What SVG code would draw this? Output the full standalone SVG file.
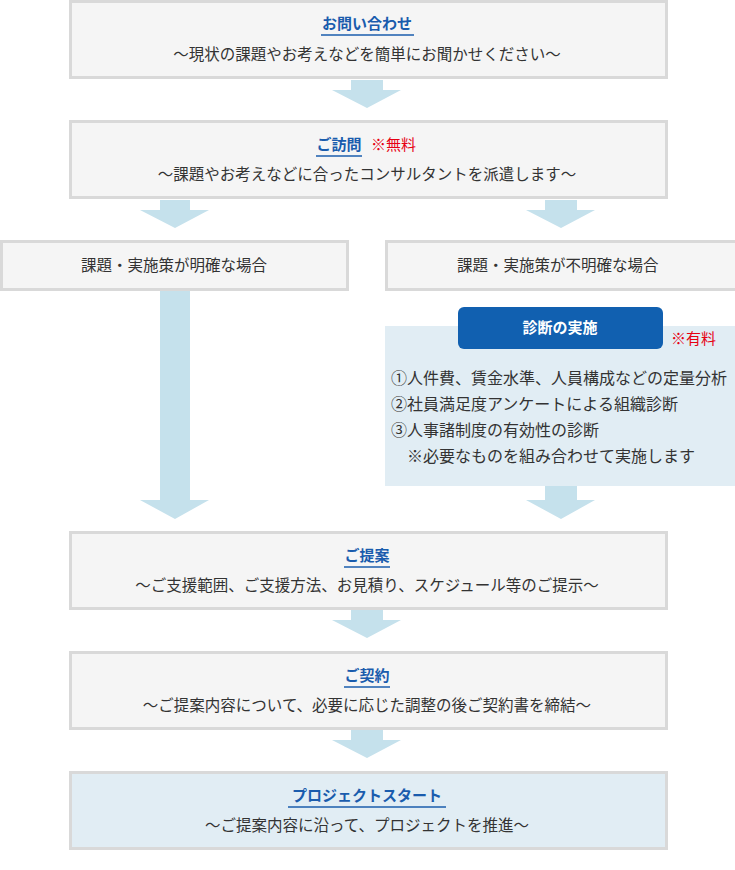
<svg xmlns="http://www.w3.org/2000/svg" width="735" height="870" viewBox="0 0 735 870">
<style>
text{font-family:"Noto Sans CJK JP","Noto Sans",sans-serif;fill:#333;font-size:15.5px}
.box{fill:#f5f5f5;stroke:#d9d9d9;stroke-width:3}
.blue{fill:#e1edf4}
.t{fill:#1a5cad;font-weight:bold;font-size:15px;text-anchor:middle}
.ul{stroke:#1a5cad;stroke-width:1.5}
.s{text-anchor:middle}
.r{fill:#e60012;font-size:15px}
.p{font-size:16px}
.arr{fill:#c5e1ec}
</style>
<g id="connectors">
<polygon class="arr" points="351,80 383,80 383,90 401,90 367,108 332,90 351,90"/>
<polygon class="arr" points="160,200 190,200 190,210 209,210 175,228 140,210 160,210"/>
<polygon class="arr" points="545,200 577,200 577,210 595,210 561,228 526,210 545,210"/>
<polygon class="arr" points="160,291 190,291 190,500 209,500 175,519 140,500 160,500"/>
<polygon class="arr" points="545,486 577,486 577,500 595,500 561,519 526,500 545,500"/>
<polygon class="arr" points="351,610 383,610 383,620 401,620 367,638 332,620 351,620"/>
<polygon class="arr" points="351,730 383,730 383,740 401,740 367,758 332,740 351,740"/>
</g>
<g id="n1"><rect class="box" x="70.500" y="1.500" width="596" height="76"/>
<text class="t" x="367" y="29">お問い合わせ</text><line class="ul" x1="321" y1="35" x2="414" y2="35"/>
<text class="s" x="367" y="60">～現状の課題やお考えなどを簡単にお聞かせください～</text></g>
<g id="n2"><rect class="box" x="70.500" y="121.500" width="596" height="76"/>
<text class="t" x="339" y="150">ご訪問</text><line class="ul" x1="316" y1="156" x2="362" y2="156"/>
<text class="r" x="371" y="150">※無料</text>
<text class="s" x="367" y="180">～課題やお考えなどに合ったコンサルタントを派遣します～</text></g>
<g id="n3"><rect class="box" x="1.500" y="241.500" width="346" height="48"/>
<text x="81" y="271">課題・実施策が明確な場合</text></g>
<g id="n4"><rect class="box" x="386.500" y="241.500" width="350" height="48"/>
<text x="457" y="271">課題・実施策が不明確な場合</text></g>
<g id="n5"><rect class="blue" x="385" y="326" width="350" height="160"/>
<rect x="458" y="307" width="205" height="42" rx="6" fill="#1160b0"/>
<text x="560" y="333" style="fill:#fff;font-weight:bold;font-size:15px;text-anchor:middle">診断の実施</text>
<text class="r" x="671" y="344">※有料</text>
<text class="p" x="391" y="384">①人件費、賃金水準、人員構成などの定量分析</text>
<text class="p" x="391" y="410">②社員満足度アンケートによる組織診断</text>
<text class="p" x="391" y="436">③人事諸制度の有効性の診断</text>
<text class="p" x="407" y="462">※必要なものを組み合わせて実施します</text></g>
<g id="n6"><rect class="box" x="70.500" y="532.500" width="596" height="76"/>
<text class="t" x="367" y="561">ご提案</text><line class="ul" x1="344" y1="567" x2="390" y2="567"/>
<text class="s" x="367" y="591">～ご支援範囲、ご支援方法、お見積り、スケジュール等のご提示～</text></g>
<g id="n7"><rect class="box" x="70.500" y="652.500" width="596" height="76"/>
<text class="t" x="367" y="681">ご契約</text><line class="ul" x1="344" y1="687" x2="390" y2="687"/>
<text class="s" x="367" y="711">～ご提案内容について、必要に応じた調整の後ご契約書を締結～</text></g>
<g id="n8"><rect class="box blue" x="70.500" y="772.500" width="596" height="76"/>
<text class="t" x="367" y="801">プロジェクトスタート</text><line class="ul" x1="288" y1="807" x2="446" y2="807"/>
<text class="s" x="367" y="831">～ご提案内容に沿って、プロジェクトを推進～</text></g>
</svg>
